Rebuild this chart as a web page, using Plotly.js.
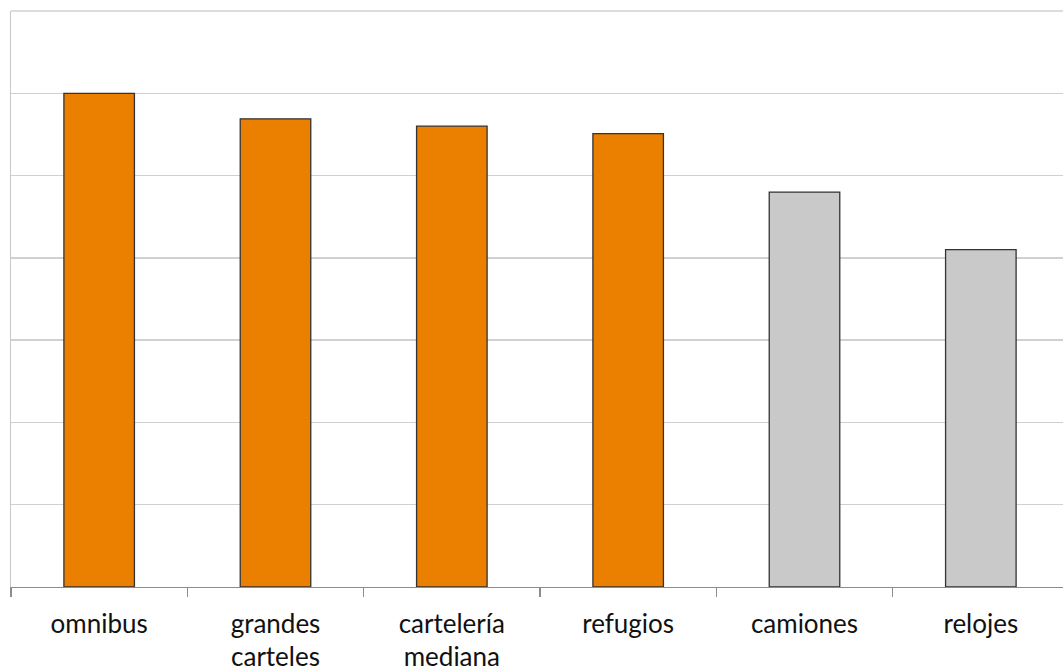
<!DOCTYPE html>
<html>
<head>
<meta charset="utf-8">
<script src="https://cdn.plot.ly/plotly-3.0.1.min.js"></script>
<style>html,body{margin:0;padding:0;background:#fff;overflow:hidden;}#chart{width:1069px;height:671px;}</style>
</head>
<body>
<div id="chart"></div>
<script>
const categories = ["omnibus", "grandes<br>carteles", "cartelería<br>mediana", "refugios", "camiones", "relojes"];
const values = [6.0, 5.69, 5.60, 5.51, 4.80, 4.10];
const barColors = ["#EA7F00", "#EA7F00", "#EA7F00", "#EA7F00", "#C9C9C9", "#C9C9C9"];

const trace = {
  type: "bar",
  x: categories,
  y: values,
  marker: {color: barColors, line: {color: "#333333", width: 1.3}},
  hoverinfo: "skip"
};

const layout = {
  width: 1069,
  height: 671,
  margin: {l: 11, r: 0, t: 11, b: 84},
  paper_bgcolor: "#ffffff",
  plot_bgcolor: "#ffffff",
  showlegend: false,
  bargap: 0.6,
  font: {family: "Lato, 'Open Sans', sans-serif", size: 26, color: "#111111"},
  xaxis: {
    type: "category",
    showgrid: false,
    showline: true,
    linecolor: "#8c8c8c",
    linewidth: 1.3,
    ticks: "outside",
    tickson: "boundaries",
    ticklen: 9,
    tickcolor: "#8c8c8c",
    tickwidth: 1.3,
    ticklabelstandoff: 13,
    zeroline: false
  },
  yaxis: {
    range: [0, 7],
    dtick: 1,
    showgrid: true,
    gridcolor: "#d0d0d0",
    gridwidth: 1.5,
    showticklabels: false,
    ticks: "",
    showline: true,
    linecolor: "#c8c8c8",
    linewidth: 1.5,
    zeroline: false
  },
  shapes: [{
    type: "line", xref: "paper", yref: "paper",
    x0: 0, x1: 1, y0: 1, y1: 1,
    line: {color: "#d0d0d0", width: 1.5},
    layer: "below"
  }]
};

Plotly.newPlot("chart", [trace], layout, {displayModeBar: false, staticPlot: true});
</script>
</body>
</html>
